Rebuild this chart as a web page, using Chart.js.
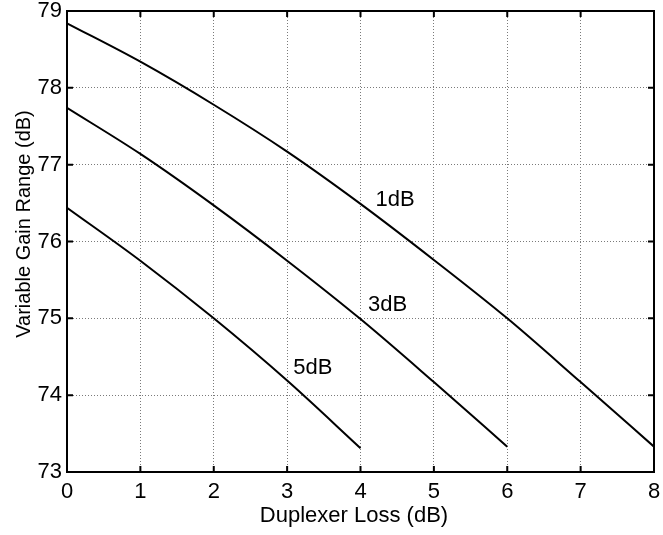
<!DOCTYPE html>
<html>
<head>
<meta charset="utf-8">
<script src="https://cdn.jsdelivr.net/npm/chart.js@4.4.1/dist/chart.umd.min.js"></script>
<style>
  html, body { margin: 0; padding: 0; background: #fff; }
  #wrap { width: 663px; height: 535px; }
</style>
</head>
<body>
<div id="wrap"><canvas id="gainChart"></canvas></div>
<script>
// duplexer loss (dB) and the resulting variable gain range (dB), one curve per case
const loss1dB = [0, 1, 2, 3, 4, 5, 6, 7, 8];
const range1dB = [78.84, 78.34, 77.78, 77.17, 76.49, 75.76, 75.0, 74.17, 73.33];

const loss3dB = [0, 1, 2, 3, 4, 5, 6];
const range3dB = [77.74, 77.14, 76.47, 75.75, 74.99, 74.17, 73.33];

const loss5dB = [0, 1, 2, 3, 4];
const range5dB = [76.44, 75.75, 75.0, 74.19, 73.31];

const xTicks = [0, 1, 2, 3, 4, 5, 6, 7, 8];
const yTicks = [73, 74, 75, 76, 77, 78, 79];

// in-plot curve labels, placed in data coordinates
const curveLabels = ['1dB', '3dB', '5dB'];
const curveLabelX = [4.47, 4.37, 3.35];
const curveLabelY = [76.54, 75.17, 74.36];

const FONT = '"Liberation Sans", Arial, Helvetica, sans-serif';

function toPoints(xs, ys) {
  return xs.map((x, i) => ({ x: x, y: ys[i] }));
}

function curve(label, xs, ys) {
  return {
    label: label,
    data: toPoints(xs, ys),
    showLine: true,
    borderColor: '#000',
    borderWidth: 2,
    pointRadius: 0,
    fill: false,
    cubicInterpolationMode: 'monotone'
  };
}

// box around the axes with inward ticks on all four sides, plus text labels
const framePlugin = {
  id: 'frame',
  afterDraw(chart) {
    const { ctx, chartArea: area, scales } = chart;
    const xs = scales.x;
    const ys = scales.y;
    const tickLen = 6;

    ctx.save();
    ctx.strokeStyle = '#000';
    ctx.lineWidth = 2;
    ctx.strokeRect(area.left, area.top, area.right - area.left, area.bottom - area.top);

    ctx.beginPath();
    xTicks.forEach((v) => {
      const px = xs.getPixelForValue(v);
      ctx.moveTo(px, area.bottom);
      ctx.lineTo(px, area.bottom - tickLen);
      ctx.moveTo(px, area.top);
      ctx.lineTo(px, area.top + tickLen);
    });
    yTicks.forEach((v) => {
      const py = ys.getPixelForValue(v);
      ctx.moveTo(area.left, py);
      ctx.lineTo(area.left + tickLen, py);
      ctx.moveTo(area.right, py);
      ctx.lineTo(area.right - tickLen, py);
    });
    ctx.stroke();

    ctx.fillStyle = '#000';
    ctx.textAlign = 'center';
    ctx.textBaseline = 'middle';
    ctx.font = '22px ' + FONT;
    curveLabels.forEach((text, i) => {
      ctx.fillText(text, xs.getPixelForValue(curveLabelX[i]), ys.getPixelForValue(curveLabelY[i]));
    });

    // axis titles
    ctx.font = '22px ' + FONT;
    ctx.fillText('Duplexer Loss (dB)', 354, 516);
    ctx.font = '20px ' + FONT;
    ctx.translate(24, 224);
    ctx.rotate(-Math.PI / 2);
    ctx.fillText('Variable Gain Range (dB)', 0, 0);
    ctx.restore();
  }
};

new Chart(document.getElementById('gainChart'), {
  type: 'scatter',
  data: {
    datasets: [
      curve('1dB', loss1dB, range1dB),
      curve('3dB', loss3dB, range3dB),
      curve('5dB', loss5dB, range5dB)
    ]
  },
  options: {
    responsive: true,
    maintainAspectRatio: false,
    animation: false,
    layout: { padding: { top: 11, right: 9, left: 0, bottom: 0 } },
    plugins: {
      legend: { display: false },
      tooltip: { enabled: false }
    },
    scales: {
      x: {
        type: 'linear',
        min: 0,
        max: 8,
        afterFit: (scale) => {
          scale.height = 63;
          scale.paddingLeft = 0;
          scale.paddingRight = 0;
        },
        afterBuildTicks: (scale) => { scale.ticks = xTicks.map((v) => ({ value: v })); },
        ticks: {
          color: '#000',
          padding: 7,
          font: { family: FONT, size: 22 }
        },
        grid: { color: '#7a7a7a', lineWidth: 1, drawTicks: false },
        border: { display: false, dash: [1, 2] }
      },
      y: {
        type: 'linear',
        min: 73,
        max: 79,
        afterFit: (scale) => {
          scale.width = 67;
          scale.paddingTop = 0;
          scale.paddingBottom = 0;
        },
        afterBuildTicks: (scale) => { scale.ticks = yTicks.map((v) => ({ value: v })); },
        ticks: {
          color: '#000',
          padding: 5,
          font: { family: FONT, size: 22 }
        },
        grid: { color: '#7a7a7a', lineWidth: 1, drawTicks: false },
        border: { display: false, dash: [1, 2] }
      }
    }
  },
  plugins: [framePlugin]
});
</script>
</body>
</html>
